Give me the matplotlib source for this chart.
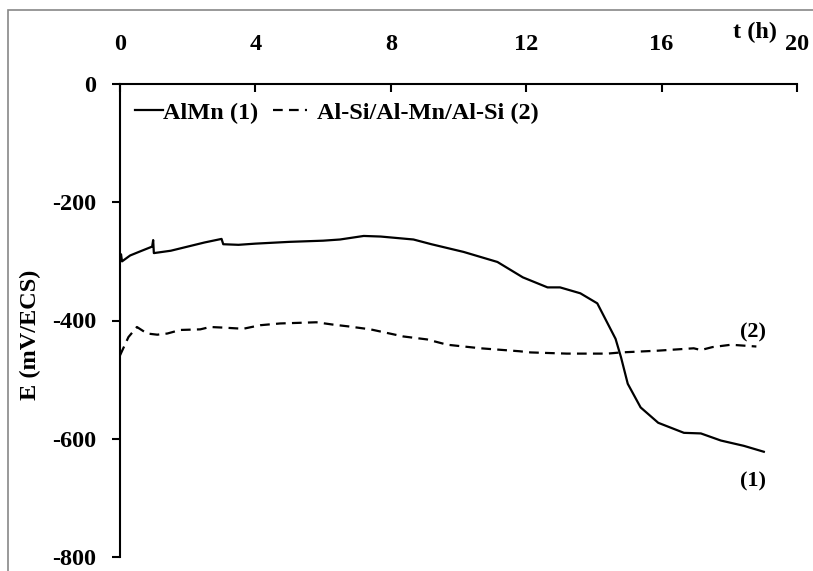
"""Open-circuit potential vs time for AlMn and the Al-Si/Al-Mn/Al-Si clad."""

import matplotlib

matplotlib.use("Agg")

import matplotlib.pyplot as plt
from matplotlib.patches import Rectangle

# AlMn (1)
t_almn = [0, 0.03, 0.06, 0.3, 0.6, 0.95, 0.98, 1.0, 1.5, 2.0, 2.5, 3.0, 3.05,
          3.5, 4.0, 5.0, 6.0, 6.5, 7.2, 7.7, 8.67, 9.2, 10.15, 11.15, 11.9,
          12.63, 13.0, 13.6, 14.1, 14.64, 14.8, 15.0, 15.38, 15.9, 16.66,
          17.16, 17.75, 18.43, 19.02]
e_almn = [-298, -288, -300, -290, -283, -275, -264, -286, -282, -275, -268,
          -262, -271, -272, -270, -267, -265, -263, -257, -258, -263, -271,
          -284, -301, -327, -344, -344, -354, -371, -431, -462, -507, -547,
          -573, -590, -591, -603, -612, -622]

# Al-Si/Al-Mn/Al-Si (2)
t_clad = [0, 0.25, 0.5, 0.8, 1.1, 1.4, 1.78, 2.37, 2.66, 3.05, 3.64, 4.14,
          4.73, 5.8, 6.3, 6.75, 7.4, 8.37, 9.07, 9.67, 10.65, 11.8, 12.13,
          13.2, 14.4, 14.8, 15.9, 16.95, 17.16, 17.5, 18.05, 18.8]
e_clad = [-459, -428, -411, -422, -424, -422, -416, -415, -411, -412, -414,
          -408, -405, -403, -407, -410, -415, -427, -432, -441, -447, -452,
          -454, -456, -456, -454, -451, -447, -450, -445, -441, -444]

x_ticks = [0, 4, 8, 12, 16, 20]
y_ticks = [0, -200, -400, -600, -800]

plt.rcParams["font.family"] = ["Liberation Serif", "DejaVu Serif"]
plt.rcParams["font.weight"] = "bold"
plt.rcParams["axes.unicode_minus"] = False
plt.rcParams["lines.scale_dashes"] = False

FS = 17.5

fig = plt.figure(figsize=(8.13, 5.71), dpi=100)
# gray outer frame (cropped on right and bottom in the original)
fig.patches.append(Rectangle((8 / 813, -0.1), 1.2, 1.1 - 10 / 571,
                             transform=fig.transFigure, fill=False,
                             edgecolor="#888888", linewidth=1.2))

ax = fig.add_axes([120 / 813, 1 - 557 / 571, (797 - 120) / 813, (557 - 84) / 571])

line1, = ax.plot(t_almn, e_almn, color="black", linewidth=1.6, label="AlMn (1)")
line2, = ax.plot(t_clad, e_clad, color="black", linewidth=1.6, dashes=(7, 4.5),
                 label="Al-Si/Al-Mn/Al-Si (2)")

ax.set_xlim(0, 20)
ax.set_ylim(-800, 0)
ax.set_xticks(x_ticks)
ax.set_yticks(y_ticks)
ax.xaxis.tick_top()
ax.tick_params(axis="x", direction="in", length=6, width=1.5, labelsize=FS, pad=21)
ax.tick_params(axis="y", direction="out", length=6, width=1.5, labelsize=FS, pad=11)
for side in ("bottom", "right"):
    ax.spines[side].set_visible(False)
for side in ("top", "left"):
    ax.spines[side].set_linewidth(1.5)

fig.text(30 / 813, 1 - 335 / 571, "E (mV/ECS)", rotation=90, fontsize=FS,
         fontweight="bold", ha="center", va="center")
fig.text(755 / 813, 1 - 32 / 571, "t (h)", fontsize=FS, fontweight="bold",
         ha="center", va="center")

ax.text(18.7, -420, "(2)", fontsize=16, fontweight="bold", ha="center", va="center")
ax.text(18.7, -673, "(1)", fontsize=16, fontweight="bold", ha="center", va="center")

# two legend entries placed separately, as in the original
leg1 = ax.legend(handles=[line1], loc="upper left", bbox_to_anchor=(0.022, 0.962),
                 frameon=False, fontsize=FS, handlelength=1.15, handletextpad=0.0,
                 borderpad=0, borderaxespad=0)
ax.add_artist(leg1)
ax.legend(handles=[line2], loc="upper left", bbox_to_anchor=(0.226, 0.962),
          frameon=False, fontsize=FS, handlelength=1.4, handletextpad=0.4,
          borderpad=0, borderaxespad=0)

fig.savefig("out.png", dpi=100)
plt.close(fig)
